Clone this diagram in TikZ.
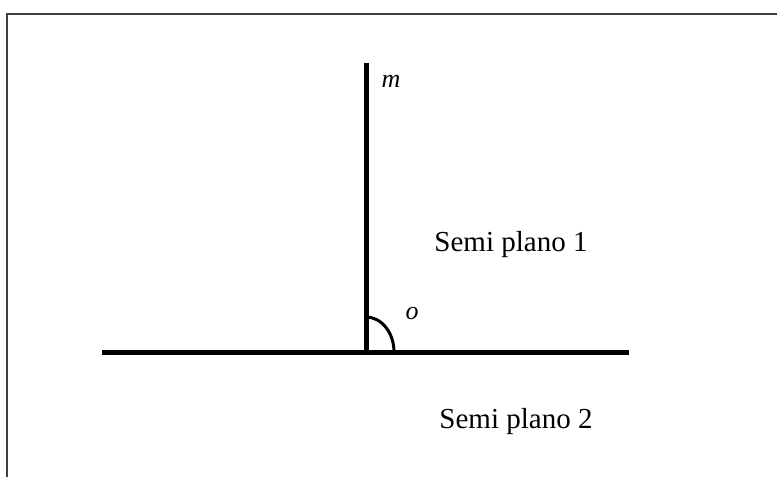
\documentclass[tikz,border=0pt]{standalone}
\usepackage{fontspec}
\setmainfont{Liberation Serif}
\begin{document}
\begin{tikzpicture}[x=1pt,y=-1pt,
  frame/.style={draw=black!75,line width=2.2pt},
  axis/.style={line width=5pt},
  anglemark/.style={line width=3pt},
  lbl/.style={inner sep=0pt,font=\fontsize{29}{31}\selectfont},
  var/.style={inner sep=0pt,font=\fontsize{26}{28}\selectfont\itshape}]
\useasboundingbox (0,0) rectangle (777,477);
\coordinate (fa) at (7,477);
\coordinate (fb) at (7,14);
\coordinate (fc) at (777,14);
\draw[frame] (fa) -- (fb) -- (fc);
\coordinate (hl) at (102,352);
\coordinate (hr) at (629,352);
\coordinate (o) at (366,352);
\coordinate (vt) at (366,63);
\coordinate (as) at (366,317);
\draw[axis] (hl) -- (hr);
\draw[axis] (o) -- (vt);
\draw[anglemark] (as) arc[start angle=-90,end angle=0,x radius=28,y radius=35];
\node[var] (m) at (391,81) {m};
\node[var] (olbl) at (412,313) {o};
\node[lbl] (s1) at (511,245) {Semi plano 1};
\node[lbl] (s2) at (516,422) {Semi plano 2};
\end{tikzpicture}
\end{document}
